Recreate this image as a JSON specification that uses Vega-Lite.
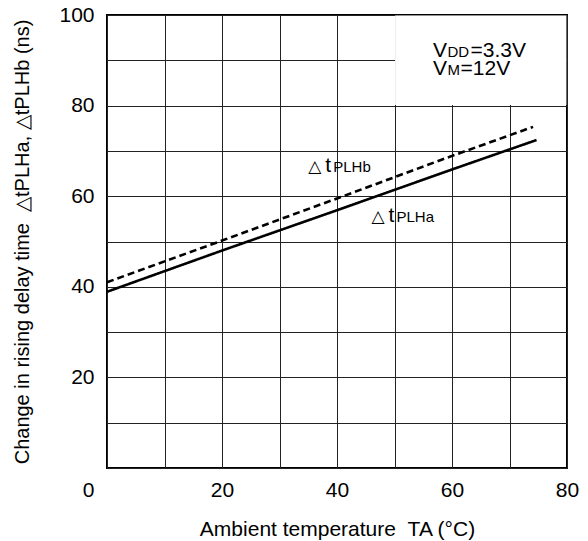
{
  "$schema": "https://vega.github.io/schema/vega-lite/v6.json",
  "width": 460,
  "height": 453,
  "autosize": {"type": "none"},
  "padding": {"left": 107, "top": 15, "right": 21, "bottom": 73},
  "background": "white",
  "config": {
    "font": "Liberation Sans",
    "view": {"stroke": "black", "strokeWidth": 2},
    "axis": {
      "grid": true, "gridColor": "#222222", "gridWidth": 1, "gridOpacity": 1,
      "domain": false, "ticks": false,
      "labelFont": "Liberation Sans", "labelFontSize": 21, "labelColor": "black",
      "titleFont": "Liberation Sans", "titleFontSize": 21, "titleFontWeight": "normal", "titleColor": "black",
      "labelOverlap": false, "labelFlush": false
    }
  },
  "datasets": {
    "curves": [
      {"series": "a", "temp": 0, "dt": 38.9},
      {"series": "a", "temp": 20, "dt": 48.0},
      {"series": "a", "temp": 40, "dt": 56.9},
      {"series": "a", "temp": 60, "dt": 65.9},
      {"series": "a", "temp": 74.7, "dt": 72.4},
      {"series": "b", "temp": 0, "dt": 41.0},
      {"series": "b", "temp": 20, "dt": 50.2},
      {"series": "b", "temp": 40, "dt": 59.5},
      {"series": "b", "temp": 60, "dt": 68.9},
      {"series": "b", "temp": 74.1, "dt": 75.3}
    ],
    "notes": [
      {"id": "b", "x": 35.0, "y": 65.3, "delta": "△", "main": "t", "sub": "PLHb"},
      {"id": "a", "x": 46.0, "y": 54.4, "delta": "△", "main": "t", "sub": "PLHa"}
    ],
    "conds": [
      {"id": "vdd", "x": 56.7, "y": 90.7, "main": "V", "sub": "DD", "rest": "=3.3V"},
      {"id": "vm", "x": 56.7, "y": 86.7, "main": "V", "sub": "M", "rest": "=12V"}
    ]
  },
  "layer": [
    {
      "data": {"name": "curves"},
      "mark": {"type": "line", "strokeWidth": 2.6, "color": "black"},
      "encoding": {
        "x": {
          "field": "temp", "type": "quantitative",
          "scale": {"domain": [0, 80], "nice": false},
          "axis": {
            "values": [0, 10, 20, 30, 40, 50, 60, 70, 80],
            "labelExpr": "datum.value % 20 == 0 ? datum.label : ''",
            "labelOffset": {"condition": {"test": "datum.value == 0", "value": -19}, "value": 0},
            "labelPadding": 11,
            "title": "Ambient temperature \u00a0TA (°C)",
            "titlePadding": 18
          }
        },
        "y": {
          "field": "dt", "type": "quantitative",
          "scale": {"domain": [0, 100], "nice": false},
          "axis": {
            "values": [0, 10, 20, 30, 40, 50, 60, 70, 80, 90, 100],
            "labelExpr": "datum.value % 20 == 0 && datum.value > 0 ? datum.label : ''",
            "labelPadding": 13,
            "title": "Change in rising delay time \u00a0△tPLHa, △tPLHb (ns)",
            "titleFontSize": 20,
            "titlePadding": 26
          }
        },
        "detail": {"field": "series"},
        "strokeDash": {
          "field": "series", "type": "nominal",
          "scale": {"domain": ["a", "b"], "range": [[1, 0], [7, 4]]},
          "legend": null
        }
      }
    },
    {
      "data": {"values": [{}]},
      "mark": {"type": "rect", "fill": "white"},
      "encoding": {
        "x": {"datum": 50.1, "type": "quantitative"},
        "x2": {"datum": 79.9},
        "y": {"datum": 80.12, "type": "quantitative"},
        "y2": {"datum": 99.9}
      }
    },
    {
      "data": {"name": "notes"},
      "mark": {"type": "text", "align": "left", "baseline": "alphabetic", "fontSize": 17, "font": "DejaVu Sans", "color": "black"},
      "encoding": {
        "x": {"field": "x", "type": "quantitative"},
        "y": {"field": "y", "type": "quantitative"},
        "text": {"field": "delta"}
      }
    },
    {
      "data": {"name": "notes"},
      "mark": {"type": "text", "align": "left", "baseline": "alphabetic", "fontSize": 21, "dx": 17, "color": "black"},
      "encoding": {
        "x": {"field": "x", "type": "quantitative"},
        "y": {"field": "y", "type": "quantitative"},
        "text": {"field": "main"}
      }
    },
    {
      "data": {"name": "notes"},
      "mark": {"type": "text", "align": "left", "baseline": "alphabetic", "fontSize": 15, "dx": 25, "color": "black"},
      "encoding": {
        "x": {"field": "x", "type": "quantitative"},
        "y": {"field": "y", "type": "quantitative"},
        "text": {"field": "sub"}
      }
    },
    {
      "data": {"name": "conds"},
      "mark": {"type": "text", "align": "left", "baseline": "alphabetic", "fontSize": 21, "color": "black"},
      "encoding": {
        "x": {"field": "x", "type": "quantitative"},
        "y": {"field": "y", "type": "quantitative"},
        "text": {"field": "main"}
      }
    },
    {
      "data": {"name": "conds"},
      "mark": {"type": "text", "align": "left", "baseline": "alphabetic", "fontSize": 15, "dx": 14.5, "color": "black"},
      "encoding": {
        "x": {"field": "x", "type": "quantitative"},
        "y": {"field": "y", "type": "quantitative"},
        "text": {"field": "sub"}
      }
    },
    {
      "data": {"name": "conds"},
      "transform": [{"filter": "datum.id == 'vdd'"}],
      "mark": {"type": "text", "align": "left", "baseline": "alphabetic", "fontSize": 21, "dx": 37.5, "color": "black"},
      "encoding": {
        "x": {"field": "x", "type": "quantitative"},
        "y": {"field": "y", "type": "quantitative"},
        "text": {"field": "rest"}
      }
    },
    {
      "data": {"name": "conds"},
      "transform": [{"filter": "datum.id == 'vm'"}],
      "mark": {"type": "text", "align": "left", "baseline": "alphabetic", "fontSize": 21, "dx": 27.5, "color": "black"},
      "encoding": {
        "x": {"field": "x", "type": "quantitative"},
        "y": {"field": "y", "type": "quantitative"},
        "text": {"field": "rest"}
      }
    }
  ]
}
